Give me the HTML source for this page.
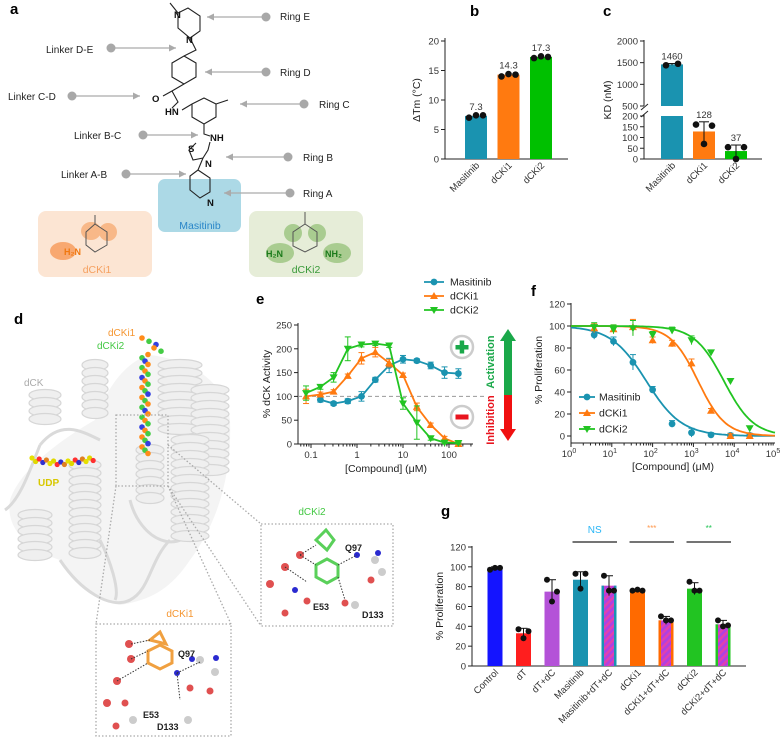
<!DOCTYPE html>
<html><head><meta charset="utf-8">
<style>
body{margin:0;background:#fff;}
svg{display:block;font-family:"Liberation Sans",Arial,sans-serif;}
.tk{font-size:9.5px;fill:#333;}
.pl{font-size:15px;font-weight:bold;fill:#000;}
.lb{font-size:10.5px;fill:#222;}
</style></head>
<body>
<svg id="fig" width="782" height="738" viewBox="0 0 782 738" xmlns="http://www.w3.org/2000/svg">
<defs>
<pattern id="hatch" width="5" height="5" patternUnits="userSpaceOnUse" patternTransform="rotate(45)">
<rect width="5" height="5" fill="#b040e0"/><rect width="2.4" height="5" fill="#e040b0"/>
</pattern>
</defs>

<text class="pl" x="10" y="14">a</text>
<text class="pl" x="470" y="16">b</text>
<text class="pl" x="603" y="16">c</text>
<text class="pl" x="14" y="324">d</text>
<text class="pl" x="256" y="304">e</text>
<text class="pl" x="531" y="296">f</text>
<text class="pl" x="441" y="516">g</text>

<g id="panelA">
<rect x="38" y="211" width="114" height="66" rx="8" fill="#fce5d3"/>
<rect x="158" y="179" width="83" height="53" rx="7" fill="#acd9e6"/>
<rect x="249" y="211" width="114" height="66" rx="8" fill="#e6edd8"/>
<text x="200" y="229" font-size="10.5" fill="#2a86c8" text-anchor="middle">Masitinib</text>
<text x="97" y="273" font-size="10.5" fill="#f5a060" text-anchor="middle">dCKi1</text>
<text x="306" y="273" font-size="10.5" fill="#3a9a3a" text-anchor="middle">dCKi2</text>
<g fill="none" stroke="#222" stroke-width="1.1">
<polyline points="170,3 178,13 178,28 190,38 200,31 200,16 188,8 178,13"/>
<polyline points="190,38 196,50 184,56 172,63 172,77 184,84 196,77 196,63 184,56"/>
<polyline points="184,84 172,91 163,96"/>
<polyline points="172,91 178,102 172,108"/>
<polyline points="182,110 192,104 204,98 216,104 216,117 204,124 192,117 192,104"/>
<polyline points="216,104 228,100"/>
<polyline points="204,124 204,134 210,136"/>
<polyline points="210,142 208,150 203,158 193,160 189,150 196,143"/>
<polyline points="203,158 198,170 190,176 190,190 200,198 210,192 210,178 198,170"/>
</g>
<g font-size="9.5" font-weight="bold" fill="#111">
<text x="174" y="18">N</text><text x="186" y="43">N</text><text x="152" y="102">O</text>
<text x="165" y="115">HN</text><text x="210" y="141">NH</text><text x="188" y="152">S</text>
<text x="205" y="167">N</text><text x="207" y="206">N</text>
</g>
<g>
<ellipse cx="91" cy="231" rx="10" ry="9" fill="#f8b888"/><ellipse cx="108" cy="232" rx="9" ry="9" fill="#f8b888"/><ellipse cx="63" cy="251" rx="13" ry="9" fill="#f8a870"/>
<polyline points="95,215 95,224 86,232 86,245 95,252 107,245 107,232 95,224" fill="none" stroke="#555" stroke-width="1"/>
<text x="64" y="255" font-size="9" fill="#f07810" font-weight="bold">H₂N</text>
</g>
<g>
<ellipse cx="293" cy="233" rx="9" ry="9" fill="#a9cc90"/><ellipse cx="317" cy="233" rx="9" ry="9" fill="#a9cc90"/>
<ellipse cx="280" cy="253" rx="14" ry="10" fill="#a9cc90"/><ellipse cx="337" cy="253" rx="14" ry="10" fill="#a9cc90"/>
<polyline points="305,212 305,224 293,232 293,246 305,252 317,246 317,232 305,224" fill="none" stroke="#555" stroke-width="1"/>
<text x="266" y="257" font-size="9" fill="#1a7a1a" font-weight="bold">H₂N</text>
<text x="325" y="257" font-size="9" fill="#1a7a1a" font-weight="bold">NH₂</text>
</g>
<g id="aArrows"></g>
</g>

<g id="panelD">
<path d="M10,500 C20,470 60,440 95,420 C110,380 130,360 150,355 C190,360 225,380 230,420 C232,470 220,520 190,560 C170,590 150,600 120,605 C90,600 70,580 60,560 C30,550 5,530 10,500Z" fill="#f4f4f4"/>
<g fill="none" stroke="#dadada" stroke-width="3">
<path d="M5,510 C20,500 30,470 40,445 M60,560 C80,590 110,610 130,600 C150,590 150,560 170,540 M100,540 C110,560 120,590 115,600 M130,500 C140,540 180,560 200,520 M40,445 C60,420 80,430 100,440"/>
</g>
<g id="helices" fill="#efefef" stroke="#d6d6d6" stroke-width="1.2"></g>
<g id="ligand"></g>
<g id="udp"></g>
<text x="108" y="336" font-size="10" fill="#f5952f">dCKi1</text>
<text x="97" y="349" font-size="10" fill="#44c844">dCKi2</text>
<text x="24" y="386" font-size="10" fill="#aaa">dCK</text>
<text x="38" y="486" font-size="10" font-weight="bold" fill="#d8c800">UDP</text>
<g fill="none" stroke="#aaa" stroke-width="1.3" stroke-dasharray="1.5,2">
<rect x="116" y="415" width="52" height="71"/>
<rect x="96" y="624" width="135" height="112"/>
<rect x="261" y="524" width="132" height="102"/>
<line x1="116" y1="486" x2="96" y2="624"/><line x1="168" y1="486" x2="231" y2="624"/>
<line x1="168" y1="445" x2="261" y2="524"/><line x1="168" y1="486" x2="261" y2="626"/>
</g>
<text x="180" y="617" font-size="10" fill="#f5952f" text-anchor="middle">dCKi1</text>
<text x="312" y="515" font-size="10" fill="#44c844" text-anchor="middle">dCKi2</text>
<g>
<polygon points="148,651 160,645 172,651 172,663 160,669 148,663" fill="none" stroke="#f0a040" stroke-width="3"/>
<polygon points="150,640 160,632 166,644" fill="none" stroke="#f0a040" stroke-width="3"/>
<g fill="#e05050"><circle cx="129" cy="644" r="4"/><circle cx="131" cy="659" r="4"/><circle cx="117" cy="681" r="4"/><circle cx="107" cy="703" r="4"/><circle cx="125" cy="703" r="3.5"/><circle cx="116" cy="726" r="3.5"/><circle cx="190" cy="688" r="3.5"/><circle cx="210" cy="691" r="3.5"/></g>
<g fill="#ccc"><circle cx="200" cy="660" r="4"/><circle cx="215" cy="672" r="4"/><circle cx="133" cy="720" r="4"/><circle cx="188" cy="720" r="4"/></g>
<g fill="#2a2ad0"><circle cx="192" cy="659" r="3"/><circle cx="216" cy="658" r="3"/><circle cx="177" cy="673" r="3"/></g>
<g stroke="#333" stroke-dasharray="1.5,1.5" fill="none"><path d="M131,644 L150,640 M131,659 L148,651 M117,681 L148,663 M177,673 L200,662 M177,673 L180,700"/></g>
<text x="178" y="657" font-size="9" font-weight="bold" fill="#222">Q97</text>
<text x="143" y="718" font-size="9" font-weight="bold" fill="#222">E53</text>
<text x="157" y="730" font-size="9" font-weight="bold" fill="#222">D133</text>
</g>
<g>
<polygon points="316,565 327,559 338,565 338,577 327,583 316,577" fill="none" stroke="#5ad05a" stroke-width="3"/>
<polygon points="316,540 326,530 334,540 327,550" fill="none" stroke="#5ad05a" stroke-width="3"/>
<g fill="#e05050"><circle cx="300" cy="555" r="4"/><circle cx="285" cy="567" r="4"/><circle cx="270" cy="584" r="4"/><circle cx="307" cy="601" r="3.5"/><circle cx="345" cy="603" r="3.5"/><circle cx="371" cy="580" r="3.5"/><circle cx="285" cy="613" r="3.5"/></g>
<g fill="#ccc"><circle cx="375" cy="560" r="4"/><circle cx="382" cy="572" r="4"/><circle cx="355" cy="605" r="4"/></g>
<g fill="#2a2ad0"><circle cx="357" cy="555" r="3"/><circle cx="378" cy="553" r="3"/><circle cx="295" cy="590" r="3"/></g>
<g stroke="#333" stroke-dasharray="1.5,1.5" fill="none"><path d="M300,555 L316,545 M300,555 L316,565 M285,567 L307,582 M338,565 L357,555 M338,577 L345,600"/></g>
<text x="345" y="551" font-size="9" font-weight="bold" fill="#222">Q97</text>
<text x="313" y="610" font-size="9" font-weight="bold" fill="#222">E53</text>
<text x="362" y="618" font-size="9" font-weight="bold" fill="#222">D133</text>
</g>
</g>

<g id="chartB"></g>
<g id="chartC"></g>
<g id="chartE"></g>
<g id="chartF"></g>
<g id="chartG"></g>
</svg>

<script>
const bCats = ['Masitinib', 'dCKi1', 'dCKi2'];
const bVals = [7.3, 14.3, 17.3];
const bPoints = [[7.0, 7.4, 7.4], [14.0, 14.4, 14.3], [17.1, 17.4, 17.3]];
const bTicks = [0, 5, 10, 15, 20];

const cCats = ['Masitinib', 'dCKi1', 'dCKi2'];
const cVals = [1460, 128, 37];
const cPoints = [[1440, 1475], [160, 155, 70], [55, 55, 0]];
const cErr = [20, 45, 28];
const cTicksLow = [0, 50, 100, 150, 200];
const cTicksHigh = [500, 1000, 1500, 2000];

const eSeriesNames = ['Masitinib', 'dCKi1', 'dCKi2'];
const eMasX = [0.16, 0.31, 0.63, 1.25, 2.5, 5, 10, 20, 40, 80, 160];
const eMasY = [93, 85, 90, 100, 135, 165, 178, 175, 165, 150, 148];
const eMasErr = [5, 4, 5, 10, 5, 15, 8, 4, 7, 12, 10];
const eK1X = [0.078, 0.16, 0.31, 0.63, 1.25, 2.5, 5, 10, 20, 40, 80, 160];
const eK1Y = [100, 104, 110, 143, 180, 193, 170, 145, 78, 40, 12, 0];
const eK1Err = [15, 5, 4, 4, 12, 10, 8, 4, 8, 4, 4, 2];
const eK2X = [0.078, 0.16, 0.31, 0.63, 1.25, 2.5, 5, 10, 20, 40, 80, 160];
const eK2Y = [107, 120, 140, 200, 209, 211, 207, 85, 45, 12, 3, 2];
const eK2Err = [15, 5, 10, 25, 5, 4, 4, 12, 35, 4, 2, 2];
const eXTicks = [0.1, 1, 10, 100];
const eYTicks = [0, 50, 100, 150, 200, 250];

const fX = [3.7, 11, 33, 100, 300, 900, 2700, 8100, 24000];
const fMasY = [92, 86, 67, 42, 11, 3, 1, 0.5, 0.5];
const fK1Y = [98, 97, 99, 87, 84, 66, 23, 0, 0];
const fK2Y = [99, 97, 98, 92, 96, 87, 76, 50, 7];
const fErr = [4, 4, 7, 3, 3, 4, 2, 2, 2];
const fIC50 = [70, 1300, 5600];
const fHill = [1.0, 1.3, 1.2];
const fYTicks = [0, 20, 40, 60, 80, 100, 120];
const fXExp = [0, 1, 2, 3, 4, 5];

const gCats = ['Control', 'dT', 'dT+dC', 'Masitinib', 'Masitinib+dT+dC', 'dCKi1', 'dCKi1+dT+dC', 'dCKi2', 'dCKi2+dT+dC'];
const gVals = [99, 33, 75, 87, 81, 76, 46, 78, 42];
const gErr = [1, 5, 12, 8, 10, 1, 4, 6, 4];
const gPoints = [[97, 99, 99], [37, 28, 35], [87, 65, 75], [93, 78, 93], [91, 76, 76], [76, 77, 76], [50, 46, 46], [85, 76, 76], [46, 40, 41]];
const gYTicks = [0, 20, 40, 60, 80, 100, 120];
const gSig = ['NS', '***', '**'];

const NS = 'http://www.w3.org/2000/svg';
function mk(parent, tag, attrs, text) {
  const el = document.createElementNS(NS, tag);
  for (const k in attrs) el.setAttribute(k, attrs[k]);
  if (text !== undefined) el.textContent = text;
  parent.appendChild(el);
  return el;
}
const TEAL = '#1a93b0', ORANGE = '#ff7a10', GREEN = '#22c422';

(function () {
  const g = document.getElementById('aArrows');
  const items = [['Ring E', 280, 20, 266, 17, 207], ['Linker D-E', 46, 53, 111, 48, 176], ['Ring D', 280, 76, 266, 72, 205],
    ['Linker C-D', 8, 100, 72, 96, 140], ['Ring C', 319, 108, 304, 104, 240], ['Linker B-C', 74, 139, 143, 135, 198],
    ['Ring B', 303, 161, 288, 157, 226], ['Linker A-B', 61, 178, 126, 174, 186], ['Ring A', 303, 197, 290, 193, 224]];
  items.forEach(function (it) {
    const t = mk(g, 'text', { x: it[1], y: it[2], 'font-size': 10, fill: '#222' }, it[0]);
    
    
    mk(g, 'line', { x1: it[3], y1: it[4], x2: it[5], y2: it[4], stroke: '#aaa', 'stroke-width': 1.2 });
    mk(g, 'circle', { cx: it[3], cy: it[4], r: 4.5, fill: '#a8a8a8' });
    const d = it[5] > it[3] ? -1 : 1;
    mk(g, 'polygon', { points: it[5] + ',' + it[4] + ' ' + (it[5] + d * 7) + ',' + (it[4] - 3.5) + ' ' + (it[5] + d * 7) + ',' + (it[4] + 3.5), fill: '#aaa' });
  });
})();

(function () {
  const g = document.getElementById('helices');
  const hel = [[45, 395, 425, 16], [95, 365, 420, 13], [180, 365, 430, 22], [210, 390, 470, 19], [190, 440, 540, 19], [35, 515, 560, 17], [85, 465, 560, 16], [150, 450, 505, 14]];
  hel.forEach(function (h) {
    for (let y = h[1]; y <= h[2]; y += 8) mk(g, 'ellipse', { cx: h[0], cy: y, rx: h[3], ry: 5.5 });
  });
  const lg = document.getElementById('ligand');
  const cols = ['#ff8c1a', '#44cc44', '#3340e0', '#ff8c1a', '#44cc44'];
  for (let i = 0; i < 36; i++) {
    const y = 338 + i * 3.3, x = 145 + ((i % 3) - 1) * 3 + (i < 5 ? i * 4 : 0);
    mk(lg, 'circle', { cx: x, cy: y, r: 2.8, fill: cols[i % 5] });
  }
  const ud = document.getElementById('udp');
  const uc = ['#e6e000', '#e0d800', '#ff3030', '#3030d0', '#e08020'];
  for (let i = 0; i < 18; i++) {
    mk(ud, 'circle', { cx: 32 + i * 3.6, cy: 462 - Math.abs(8 - i) * 0.5 + (i % 2) * 3, r: 2.6, fill: uc[i % 5] });
  }
})();

(function () {
  const g = document.getElementById('chartB');
  const y = v => 159 - v * (118 / 20);
  const cx = i => 476 + i * 32.5;
  mk(g, 'line', { x1: 445, y1: 38, x2: 445, y2: 159, stroke: '#222' });
  mk(g, 'line', { x1: 445, y1: 159, x2: 568, y2: 159, stroke: '#222' });
  bTicks.forEach(function (t) {
    mk(g, 'line', { x1: 441, y1: y(t), x2: 445, y2: y(t), stroke: '#222' });
    mk(g, 'text', { x: 439, y: y(t) + 3.5, class: 'tk', 'text-anchor': 'end' }, t);
  });
  const tt = mk(g, 'text', { x: 0, y: 0, class: 'lb', 'text-anchor': 'middle', transform: 'translate(420,100) rotate(-90)' }, 'ΔTm (°C)');
  
  
  const cols = [TEAL, ORANGE, '#00c000'];
  bVals.forEach(function (v, i) {
    const r = mk(g, 'rect', { x: cx(i) - 11, y: y(v), width: 22, height: 159 - y(v), fill: cols[i] });
    
    
    bPoints[i].forEach(function (p, j) { mk(g, 'circle', { cx: cx(i) - 7 + j * 7, cy: y(p), r: 3.3, fill: '#111' }); });
    mk(g, 'text', { x: cx(i), y: y(v) - 6, class: 'tk', 'text-anchor': 'middle' }, v.toFixed(1));
    mk(g, 'text', { x: 0, y: 0, class: 'tk', 'text-anchor': 'end', transform: 'translate(' + (cx(i) + 4) + ',166) rotate(-45)' }, bCats[i]);
  });
})();

(function () {
  const g = document.getElementById('chartC');
  const y = v => v <= 200 ? 159 - v * (43 / 200) : 106 - (v - 500) * (65 / 1500);
  const cx = i => 672 + i * 32;
  mk(g, 'line', { x1: 644, y1: 40, x2: 644, y2: 106, stroke: '#222' });
  mk(g, 'line', { x1: 644, y1: 114, x2: 644, y2: 159, stroke: '#222' });
  mk(g, 'line', { x1: 641, y1: 110, x2: 648, y2: 104, stroke: '#222' });
  mk(g, 'line', { x1: 641, y1: 117, x2: 648, y2: 111, stroke: '#222' });
  mk(g, 'line', { x1: 644, y1: 159, x2: 762, y2: 159, stroke: '#222' });
  cTicksLow.concat(cTicksHigh).forEach(function (t) {
    mk(g, 'line', { x1: 640, y1: y(t), x2: 644, y2: y(t), stroke: '#222' });
    mk(g, 'text', { x: 638, y: y(t) + 3.5, class: 'tk', 'text-anchor': 'end' }, t);
  });
  const tt = mk(g, 'text', { x: 0, y: 0, class: 'lb', 'text-anchor': 'middle', transform: 'translate(611,100) rotate(-90)' }, 'KD (nM)');
  
  
  const cols = [TEAL, ORANGE, '#00c000'];
  cVals.forEach(function (v, i) {
    const top = y(v);
    if (v > 200) {
      mk(g, 'rect', { x: cx(i) - 11, y: top, width: 22, height: 106 - top, fill: cols[i] });
      const r = mk(g, 'rect', { x: cx(i) - 11, y: 116, width: 22, height: 43, fill: cols[i] });
      
      
    } else {
      const r = mk(g, 'rect', { x: cx(i) - 11, y: top, width: 22, height: 159 - top, fill: cols[i] });
      
      
    }
    mk(g, 'line', { x1: cx(i), y1: y(v - cErr[i]), x2: cx(i), y2: y(v + cErr[i]), stroke: '#111' });
    mk(g, 'line', { x1: cx(i) - 5, y1: y(v + cErr[i]), x2: cx(i) + 5, y2: y(v + cErr[i]), stroke: '#111' });
    cPoints[i].forEach(function (p, j) {
      const n = cPoints[i].length;
      mk(g, 'circle', { cx: cx(i) + (n === 2 ? (j ? 6 : -6) : (j === 2 ? 0 : (j ? 8 : -8))), cy: y(p), r: 3.3, fill: '#111' });
    });
    mk(g, 'text', { x: cx(i), y: y(v + cErr[i]) - 4, class: 'tk', 'text-anchor': 'middle', 'font-size': 10 }, v);
    mk(g, 'text', { x: 0, y: 0, class: 'tk', 'text-anchor': 'end', transform: 'translate(' + (cx(i) + 4) + ',166) rotate(-45)' }, cCats[i]);
  });
})();

function marker(g, type, x, y, c) {
  if (type === 'c') mk(g, 'circle', { cx: x, cy: y, r: 3.4, fill: c });
  else if (type === 'u') mk(g, 'polygon', { points: x + ',' + (y - 4) + ' ' + (x - 4) + ',' + (y + 3) + ' ' + (x + 4) + ',' + (y + 3), fill: c });
  else mk(g, 'polygon', { points: x + ',' + (y + 4) + ' ' + (x - 4) + ',' + (y - 3) + ' ' + (x + 4) + ',' + (y - 3), fill: c });
}

(function () {
  const g = document.getElementById('chartE');
  const x = v => 357 + 46 * Math.log10(v);
  const y = v => 444 - v * 119 / 250;
  mk(g, 'line', { x1: 298, y1: 323, x2: 298, y2: 444, stroke: '#222' });
  mk(g, 'line', { x1: 298, y1: 444, x2: 473, y2: 444, stroke: '#222' });
  eYTicks.forEach(function (t) {
    mk(g, 'line', { x1: 294, y1: y(t), x2: 298, y2: y(t), stroke: '#222' });
    mk(g, 'text', { x: 292, y: y(t) + 3.5, class: 'tk', 'text-anchor': 'end' }, t);
  });
  for (let d = -2; d <= 2; d++) for (let k = 1; k < 10; k++) {
    const xv = x(Math.pow(10, d) * k);
    if (xv < 299 || xv > 473) continue;
    mk(g, 'line', { x1: xv, y1: 444, x2: xv, y2: k === 1 ? 448 : 446.5, stroke: '#222' });
  }
  eXTicks.forEach(function (t) { mk(g, 'text', { x: x(t), y: 458, class: 'tk', 'text-anchor': 'middle' }, t); });
  const xt = mk(g, 'text', { x: 386, y: 472, class: 'lb', 'text-anchor': 'middle' }, '[Compound] (μM)');
  
  
  const yt = mk(g, 'text', { x: 0, y: 0, class: 'lb', 'text-anchor': 'middle', transform: 'translate(270,384) rotate(-90)' }, '% dCK Activity');
  
  
  mk(g, 'line', { x1: 298, y1: y(100), x2: 486, y2: y(100), stroke: '#999', 'stroke-dasharray': '4,3' });
  const series = [[eMasX, eMasY, eMasErr, TEAL, 'c'], [eK1X, eK1Y, eK1Err, ORANGE, 'u'], [eK2X, eK2Y, eK2Err, GREEN, 'd']];
  series.forEach(function (s, si) {
    const pts = s[0].map((xv, i) => x(xv) + ',' + y(s[1][i])).join(' ');
    const pl = mk(g, 'polyline', { points: pts, fill: 'none', stroke: s[3], 'stroke-width': 1.8 });
    
    
    s[0].forEach(function (xv, i) {
      const px = x(xv), py = y(s[1][i]);
      mk(g, 'line', { x1: px, y1: y(s[1][i] - s[2][i]), x2: px, y2: y(s[1][i] + s[2][i]), stroke: s[3] });
      mk(g, 'line', { x1: px - 3, y1: y(s[1][i] + s[2][i]), x2: px + 3, y2: y(s[1][i] + s[2][i]), stroke: s[3] });
      mk(g, 'line', { x1: px - 3, y1: y(s[1][i] - s[2][i]), x2: px + 3, y2: y(s[1][i] - s[2][i]), stroke: s[3] });
      marker(g, s[4], px, py, s[3]);
    });
  });
  [['Masitinib', TEAL, 'c', 282], ['dCKi1', ORANGE, 'u', 296], ['dCKi2', GREEN, 'd', 310]].forEach(function (l) {
    mk(g, 'line', { x1: 424, y1: l[3], x2: 444, y2: l[3], stroke: l[1], 'stroke-width': 1.8 });
    marker(g, l[2], 434, l[3], l[1]);
    const t = mk(g, 'text', { x: 450, y: l[3] + 3.5, class: 'lb', 'font-size': 10 }, l[0]);
    
    
  });
  mk(g, 'circle', { cx: 462, cy: 347, r: 11, fill: '#fff', stroke: '#ccc', 'stroke-width': 2.5 });
  mk(g, 'rect', { x: 455.5, y: 345, width: 13, height: 4.5, fill: '#1aa84a' });
  mk(g, 'rect', { x: 459.7, y: 340.5, width: 4.5, height: 13, fill: '#1aa84a' });
  mk(g, 'circle', { cx: 462, cy: 417, r: 11, fill: '#fff', stroke: '#ccc', 'stroke-width': 2.5 });
  mk(g, 'rect', { x: 455.5, y: 414.5, width: 13, height: 5, fill: '#e8141e' });
  mk(g, 'text', { x: 0, y: 0, 'font-size': 11, 'font-weight': 'bold', fill: '#1aa84a', 'text-anchor': 'middle', transform: 'translate(494,362) rotate(-90)' }, 'Activation');
  mk(g, 'text', { x: 0, y: 0, 'font-size': 11, 'font-weight': 'bold', fill: '#e8141e', 'text-anchor': 'middle', transform: 'translate(494,420) rotate(-90)' }, 'Inhibition');
  mk(g, 'rect', { x: 504, y: 340, width: 8, height: 55, fill: '#1aa84a' });
  mk(g, 'polygon', { points: '508,329 500,341 516,341', fill: '#1aa84a' });
  mk(g, 'rect', { x: 504, y: 395, width: 8, height: 35, fill: '#f01010' });
  mk(g, 'polygon', { points: '508,441 500,429 516,429', fill: '#f01010' });
})();

(function () {
  const g = document.getElementById('chartF');
  const x = v => 571 + 40.8 * Math.log10(v);
  const y = v => 436 - v * 1.1;
  mk(g, 'line', { x1: 571, y1: 303, x2: 571, y2: 443, stroke: '#222' });
  mk(g, 'line', { x1: 571, y1: 443, x2: 775, y2: 443, stroke: '#222' });
  fYTicks.forEach(function (t) {
    mk(g, 'line', { x1: 567, y1: y(t), x2: 571, y2: y(t), stroke: '#222' });
    mk(g, 'text', { x: 565, y: y(t) + 3.5, class: 'tk', 'text-anchor': 'end' }, t);
  });
  for (let d = 0; d < 5; d++) for (let k = 1; k < 10; k++) {
    const xv = x(Math.pow(10, d) * k);
    mk(g, 'line', { x1: xv, y1: 443, x2: xv, y2: k === 1 ? 447 : 445.5, stroke: '#222' });
  }
  fXExp.forEach(function (e) {
    const t = mk(g, 'text', { x: x(Math.pow(10, e)) - 2, y: 457, class: 'tk', 'text-anchor': 'middle' }, '10');
    mk(t, 'tspan', { dy: -4, 'font-size': 7 }, String(e));
  });
  const xt = mk(g, 'text', { x: 673, y: 470, class: 'lb', 'text-anchor': 'middle' }, '[Compound] (μM)');
  
  
  const yt = mk(g, 'text', { x: 0, y: 0, class: 'lb', 'text-anchor': 'middle', transform: 'translate(542,370) rotate(-90)' }, '% Proliferation');
  
  
  const names = ['Masitinib', 'dCKi1', 'dCKi2'];
  const ys = [fMasY, fK1Y, fK2Y], cols = [TEAL, ORANGE, GREEN], mks = ['c', 'u', 'd'];
  ys.forEach(function (arr, si) {
    let d = '';
    for (let lx = 0; lx <= 5; lx += 0.05) {
      const v = 100 / (1 + Math.pow(Math.pow(10, lx) / fIC50[si], fHill[si]));
      d += (d ? 'L' : 'M') + x(Math.pow(10, lx)).toFixed(1) + ',' + y(v).toFixed(1);
    }
    const p = mk(g, 'path', { d: d, fill: 'none', stroke: cols[si], 'stroke-width': 1.8 });
    
    
    arr.forEach(function (v, i) {
      const px = x(fX[i]);
      mk(g, 'line', { x1: px, y1: y(v - fErr[i]), x2: px, y2: y(v + fErr[i]), stroke: cols[si] });
      mk(g, 'line', { x1: px - 3, y1: y(v + fErr[i]), x2: px + 3, y2: y(v + fErr[i]), stroke: cols[si] });
      marker(g, mks[si], px, y(v), cols[si]);
    });
  });
  [['Masitinib', TEAL, 'c', 397], ['dCKi1', ORANGE, 'u', 413], ['dCKi2', GREEN, 'd', 429]].forEach(function (l) {
    mk(g, 'line', { x1: 579, y1: l[3], x2: 595, y2: l[3], stroke: l[1], 'stroke-width': 1.8 });
    marker(g, l[2], 587, l[3], l[1]);
    const t = mk(g, 'text', { x: 599, y: l[3] + 3.5, class: 'lb', 'font-size': 10 }, l[0]);
    
    
  });
})();

(function () {
  const g = document.getElementById('chartG');
  const y = v => 666 - v * (119 / 120);
  const cx = i => 495 + i * 28.5;
  mk(g, 'line', { x1: 472, y1: 546, x2: 472, y2: 666, stroke: '#222' });
  mk(g, 'line', { x1: 472, y1: 666, x2: 746, y2: 666, stroke: '#222' });
  gYTicks.forEach(function (t) {
    mk(g, 'line', { x1: 468, y1: y(t), x2: 472, y2: y(t), stroke: '#222' });
    mk(g, 'text', { x: 466, y: y(t) + 3.5, class: 'tk', 'text-anchor': 'end' }, t);
  });
  const yt = mk(g, 'text', { x: 0, y: 0, class: 'lb', 'text-anchor': 'middle', transform: 'translate(443,606) rotate(-90)' }, '% Proliferation');
  
  
  const fills = ['#1414ff', '#ff1e1e', '#b452d8', TEAL, 'url(#hatch)', '#ff6a00', 'url(#hatch)', '#22c422', 'url(#hatch)'];
  const edges = [null, null, null, null, TEAL, null, '#ff6a00', null, '#22c422'];
  gVals.forEach(function (v, i) {
    const r = mk(g, 'rect', { x: cx(i) - 7.5, y: y(v), width: 15, height: 666 - y(v), fill: fills[i] });
    
    
    if (edges[i]) {
      mk(g, 'rect', { x: cx(i) - 7.5, y: y(v), width: 2.5, height: 666 - y(v), fill: edges[i] });
      mk(g, 'rect', { x: cx(i) + 5, y: y(v), width: 2.5, height: 666 - y(v), fill: edges[i] });
    }
    mk(g, 'line', { x1: cx(i), y1: y(v - gErr[i]), x2: cx(i), y2: y(v + gErr[i]), stroke: '#111' });
    mk(g, 'line', { x1: cx(i) - 4, y1: y(v + gErr[i]), x2: cx(i) + 4, y2: y(v + gErr[i]), stroke: '#111' });
    gPoints[i].forEach(function (p, j) { mk(g, 'circle', { cx: cx(i) + (j === 0 ? -5 : j === 1 ? 0 : 5), cy: y(p), r: 3, fill: '#111' }); });
    mk(g, 'text', { x: 0, y: 0, class: 'tk', 'text-anchor': 'end', transform: 'translate(' + (cx(i) + 4) + ',673) rotate(-45)' }, gCats[i]);
  });
  const sigCols = ['#29b6f6', '#ff9a50', '#22c455'];
  gSig.forEach(function (s, k) {
    const a = cx(3 + 2 * k) - 8, b = cx(4 + 2 * k) + 8;
    mk(g, 'line', { x1: a, y1: 542, x2: b, y2: 542, stroke: '#222', 'stroke-width': 1.3 });
    const t = mk(g, 'text', { x: (a + b) / 2, y: s === 'NS' ? 533 : 531, 'font-size': s === 'NS' ? 10 : 8, fill: sigCols[k], 'text-anchor': 'middle' }, s);
    
    
  });
})();
</script>
</body></html>
